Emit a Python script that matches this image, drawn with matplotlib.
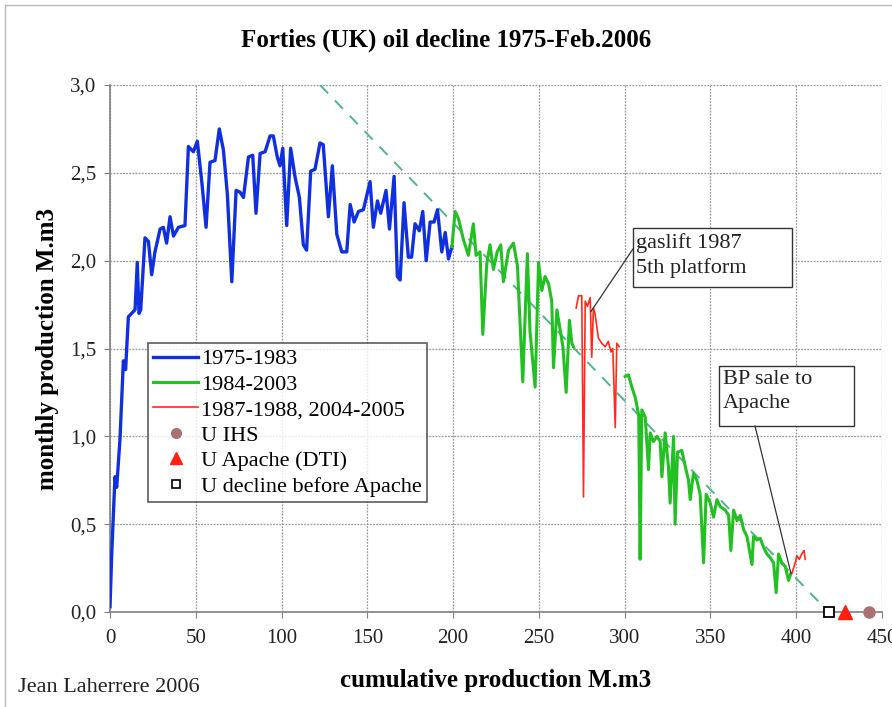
import matplotlib
matplotlib.use("Agg")
import matplotlib.pyplot as plt
import numpy as np
from matplotlib.ticker import FuncFormatter, MultipleLocator
from matplotlib.lines import Line2D
from matplotlib.patches import Rectangle

# ---- data ----
blue_x = [0, 1, 2.9, 3.9, 5.8, 7.8, 9.1, 10.7, 12.6, 14.6, 15.9, 16.9, 17.9, 20.4, 22.4, 24.3, 26.2,
          29.2, 31.1, 33.0, 35.0, 37.0, 39.9, 43.7, 45.7, 48.6, 50.9, 53.5, 56.0, 58.3, 61.2, 63.7,
          66.1, 68.4, 71.0, 73.5, 75.8, 77.8, 80.7, 83.2, 85.1, 87.5, 90.4, 93.3, 95.2, 97.5, 99.1,
          100.7, 103.0, 105.3, 107.8, 110.4, 112.7, 114.6, 117.0, 119.5, 122.4, 124.3, 127.3, 129.6,
          132.2, 135.1, 138.0, 140.0, 142.3, 144.8, 147.7, 151.6, 153.5, 155.9, 157.8, 160.9, 162.9,
          165.6, 167.5, 169.1, 171.4, 173.9, 175.8, 177.8, 180.3, 182.3, 184.3, 186.6, 188.9, 190.9,
          193.4, 195.4, 197.3, 199.3]
blue_y = [0.03, 0.33, 0.77, 0.71, 0.98, 1.43, 1.38, 1.68, 1.70, 1.72, 1.99, 1.70, 1.72, 2.13, 2.11,
          1.92, 2.05, 2.18, 2.19, 2.10, 2.25, 2.14, 2.19, 2.20, 2.65, 2.62, 2.68, 2.45, 2.19, 2.56,
          2.57, 2.75, 2.63, 2.38, 1.88, 2.40, 2.39, 2.36, 2.59, 2.60, 2.27, 2.61, 2.62, 2.71, 2.71,
          2.59, 2.54, 2.64, 2.20, 2.64, 2.48, 2.36, 2.09, 2.06, 2.51, 2.52, 2.67, 2.66, 2.25, 2.54,
          2.15, 2.05, 2.05, 2.32, 2.22, 2.28, 2.29, 2.45, 2.19, 2.34, 2.27, 2.40, 2.18, 2.48, 1.91,
          1.89, 2.33, 2.02, 2.02, 2.21, 2.17, 2.28, 2.00, 2.22, 2.22, 2.29, 2.05, 2.16, 2.01, 2.08]

green_x = [199.3, 201.2, 203.1, 206.0, 208.9, 211.8, 213.4, 215.7, 217.3, 219.6, 221.5, 223.5, 225.7,
           227.8, 229.3, 232.3, 235.2, 237.5, 240.6, 243.3, 244.8, 247.8, 249.8, 251.7, 253.6,
           255.6, 257.5, 258.5, 260.5, 262.0, 264.0, 265.9, 267.8, 269.2, 270.2, np.nan,
           300.3, 302.2, 304.2, 306.2, 308.2, 309.0, 310.0, 312.0, 313.9, 314.9, 316.8, 318.8,
           320.7, 321.7, 323.6, 325.5, 326.5, 328.5, 329.4, 330.8, 333.3, 335.3, 337.2, 338.2,
           340.1, 342.1, 344.0, 346.0, 347.5, 349.9, 351.8, 353.8, 355.7, 358.6, 360.6, 361.9,
           363.5, 365.5, 367.4, 369.3, 371.3, 374.2, 375.1, 377.1, 379.0, 380.9, 382.9, 384.8,
           386.8, 388.3, 389.7, 391.6, 393.6, 395.5, 396.9]
green_y = [2.08, 2.28, 2.24, 2.12, 2.03, 2.21, 2.03, 2.05, 1.58, 1.98, 2.09, 1.95, 2.05,
           2.09, 1.88, 2.06, 2.10, 1.97, 1.31, 2.04, 1.60, 1.28, 1.99, 1.83, 1.91,
           1.87, 1.77, 1.39, 1.72, 1.63, 1.51, 1.25, 1.66, 1.53, 1.51, np.nan,
           1.34, 1.35, 1.28, 1.22, 1.12, 0.30, 1.15, 1.11, 0.81, 1.02, 0.97, 1.00,
           0.97, 0.77, 1.02, 0.83, 0.62, 1.00, 0.50, 0.91, 0.92, 0.83, 0.75, 0.64,
           0.79, 0.75, 0.67, 0.28, 0.67, 0.62, 0.54, 0.64, 0.60, 0.58, 0.55, 0.35,
           0.58, 0.52, 0.55, 0.47, 0.43, 0.27, 0.43, 0.41, 0.42, 0.37, 0.33, 0.31,
           0.28, 0.11, 0.33, 0.28, 0.26, 0.18, 0.22]

red_x = [271.7, 273.1, 275.0, 276.0, 277.0, 278.3, 279.9, 280.8, 281.8, 282.7, 284.7, 286.6,
         288.6, 290.5, 292.0, 293.1, 294.5, 295.4, 296.8, np.nan,
         396.9, 397.5, 399.4, 400.4, 401.8, 403.2, 404.6, 405.2]
red_y = [1.73, 1.80, 1.80, 0.655, 1.77, 1.74, 1.79, 1.45, 1.73, 1.70, 1.56, 1.53,
         1.51, 1.54, 1.48, 1.50, 1.05, 1.53, 1.51, np.nan,
         0.22, 0.22, 0.28, 0.32, 0.30, 0.33, 0.35, 0.30]

trend_x = [122.4, 418.9]
trend_y = [3.0, 0.0]

u_ihs = 442.7
u_apache = 428.6
u_decline = 418.9

series_labels = ["1975-1983", "1984-2003", "1987-1988, 2004-2005",
                 "U IHS", "U Apache (DTI)", "U decline before Apache"]

# ---- plot ----
plt.rcParams['font.family'] = ['Liberation Serif', 'DejaVu Serif']

fig = plt.figure(figsize=(8.92, 7.07), dpi=100)
ax = fig.add_axes([110/892, 1-612/707, 772/892, 527/707])

ax.plot(trend_x, trend_y, color='#4fb58a', lw=1.4, dashes=(6, 5), zorder=2)
ax.plot(blue_x, blue_y, color='#1030e0', lw=2.4, zorder=3)
ax.plot(green_x, green_y, color='#22c022', lw=2.2, zorder=3)
ax.plot(red_x, red_y, color='#ff2a1a', lw=1.2, zorder=4)
ax.plot([u_ihs], [0], 'o', color='#a87272', ms=8, clip_on=False, zorder=5)
ax.plot([u_apache], [0], '^', color='#ff2010', ms=10, clip_on=False, zorder=5)
ax.plot([u_decline], [0], 's', mfc='white', mec='black', mew=1.3, ms=7, clip_on=False, zorder=5)

ax.set_xlim(0, 450)
ax.set_ylim(0, 3.0)
ax.xaxis.set_major_locator(MultipleLocator(50))
ax.yaxis.set_major_locator(MultipleLocator(0.5))
ax.yaxis.set_major_formatter(FuncFormatter(lambda v, p: f"{v:.1f}".replace('.', ',')))
ax.grid(True, color='#9a9a9a', lw=0.9, ls=(0, (1.5, 1)))
ax.set_axisbelow(True)
for s in ['top', 'right']:
    ax.spines[s].set_visible(False)
for s in ['left', 'bottom']:
    ax.spines[s].set_color('#808080')
    ax.spines[s].set_linewidth(1.2)
ax.tick_params(axis='both', labelsize=15, color='#808080', direction='out', length=4,
               labelcolor='#222222')
ax.tick_params(axis='x', pad=8)
ax.tick_params(axis='y', pad=6)

ax.set_xlabel("cumulative production M.m3", fontsize=18, fontweight='bold', labelpad=15)
ax.set_ylabel("monthly production M.m3", fontsize=18, fontweight='bold', labelpad=8)
fig.text(0.5, 1-40/707, "Forties (UK) oil decline 1975-Feb.2006", ha='center', va='center',
         fontsize=18, fontweight='bold')
fig.text(18/892, 1-687/707, "Jean Laherrere 2006", ha='left', va='center', fontsize=16,
         color='#222222')

# annotations (boxes drawn in data coordinates)
ax.add_patch(Rectangle((304.8, 1.852), 397.5-304.8, 2.186-1.852, fc='white', ec='#333333',
                       lw=1.0, zorder=6))
ax.text(306.7, 2.155, "gaslift 1987\n5th platform", fontsize=16, ha='left', va='top',
        linespacing=1.35, color='#222222', zorder=7)
ax.plot([304.8, 280.3], [2.066, 1.71], color='#333333', lw=0.9, zorder=6)

ax.add_patch(Rectangle((354.7, 1.058), 433.4-354.7, 1.40-1.058, fc='white', ec='#333333',
                       lw=1.0, zorder=6))
ax.text(357.4, 1.375, "BP sale to\nApache", fontsize=16, ha='left', va='top',
        linespacing=1.35, color='#222222', zorder=7)
ax.plot([376.0, 396.9], [1.058, 0.22], color='#333333', lw=0.9, zorder=6)

handles = [Line2D([], [], color='#1030e0', lw=2.4),
           Line2D([], [], color='#22c022', lw=2.2),
           Line2D([], [], color='#ff2a1a', lw=1.2),
           Line2D([], [], marker='o', ls='', color='#a87272', ms=7),
           Line2D([], [], marker='^', ls='', color='#ff2010', ms=9),
           Line2D([], [], marker='s', ls='', mfc='white', mec='black', mew=1.2, ms=6)]
leg = ax.legend(handles, series_labels, loc='upper left', bbox_to_anchor=(0.049, 0.51),
                fontsize=16, frameon=True, fancybox=False, edgecolor='#333333',
                handlelength=2.0, handletextpad=0.15, labelspacing=0.22, borderpad=0.25,
                borderaxespad=0)
leg.get_frame().set_linewidth(1.2)
leg.set_zorder(8)

# figure border (top and left)
fig.add_artist(Line2D([5/892, 5/892], [0, 1-5/707], transform=fig.transFigure, color='#bbbbbb', lw=1))
fig.add_artist(Line2D([5/892, 1], [1-5/707, 1-5/707], transform=fig.transFigure, color='#bbbbbb', lw=1))

fig.savefig("out.png", dpi=100)
